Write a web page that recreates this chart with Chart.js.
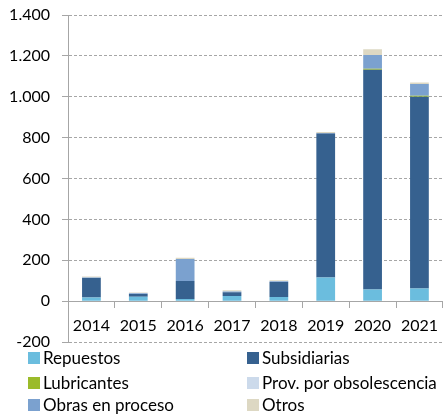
<!DOCTYPE html>
<html><head><meta charset="utf-8">
<script src="https://cdn.jsdelivr.net/npm/chart.js@4.4.1/dist/chart.umd.min.js"></script>
<style>
html,body{margin:0;padding:0;background:#fff;}
#wrap{position:relative;width:447px;height:415px;overflow:hidden;}
#cw{position:absolute;left:0;top:0;width:447px;height:352px;}
#legend{position:absolute;left:0;top:0;width:447px;height:415px;font-family:Lato;font-size:17px;color:#000;pointer-events:none;}
.item{position:absolute;display:flex;align-items:center;white-space:nowrap;height:20px;line-height:20px;}
.sw{width:12px;height:12px;margin-right:3px;flex:none;}
</style></head><body>
<div id="wrap"><div id="cw"><canvas id="c"></canvas></div><div id="legend"></div></div>
<script>
const categories = ['2014','2015','2016','2017','2018','2019','2020','2021'];
const repuestos    = [18, 21, 10, 25, 20, 116, 57, 62];
const subsidiarias = [95, 14, 88, 18, 74, 704, 1075, 938];
const lubricantes  = [0, 0, 0, 0, 0, 0, 5, 5];
const provObsol    = [0, 0, 0, 0, 0, 0, 0, 0];
const obras        = [2, 3, 108, 4, 3, 3, 67, 57];
const otros        = [5, 4, 6, 6, 5, 5, 29, 8];
const seriesNames  = ['Repuestos','Subsidiarias','Lubricantes','Prov. por obsolescencia','Obras en proceso','Otros'];
const seriesColors = ['#6BBDDE','#36618F','#9BBB2A','#CCDAEB','#7BA1CF','#DDD8C3'];
const yTickLabels  = ['-200','0','200','400','600','800','1.000','1.200','1.400'];

const seriesData = [repuestos, subsidiarias, lubricantes, provObsol, obras, otros];
const datasets = seriesNames.map((n,i)=>({
  label:n, data:seriesData[i], backgroundColor:seriesColors[i],
  borderWidth:0, barPercentage:0.4, categoryPercentage:1
}));

const font = {family:'Lato', size:16};
new Chart(document.getElementById('c'), {
  type:'bar',
  data:{labels:categories, datasets},
  options:{
    responsive:true, maintainAspectRatio:false, animation:false,
    layout:{padding:{top:15,right:0,bottom:10,left:0}},
    plugins:{legend:{display:false}, tooltip:{enabled:false}},
    scales:{
      x:{
        stacked:true, position:{y:0},
        grid:{drawOnChartArea:false, drawTicks:true, tickLength:6, color:'#A6A6A6', offset:true},
        border:{display:true, color:'#A6A6A6', width:1, z:1},
        ticks:{font, color:'#000', padding:9, maxRotation:0, autoSkip:false}
      },
      y:{
        stacked:true, min:-200, max:1400,
        afterFit:(s)=>{s.width=68; s.paddingTop=0; s.paddingBottom=0;},
        grid:{color:'#A6A6A6', tickLength:6, tickBorderDash:[], lineWidth:1},
        border:{display:true, color:'#A6A6A6', dash:[3,2]},
        ticks:{stepSize:200, font, color:'#000', padding:12,
          callback:(v,i)=>yTickLabels[i]}
      }
    }
  }
});

const lg = document.getElementById('legend');
const colX = [28, 247];
const rowC = [358, 382.5, 405];
seriesNames.forEach((n,i)=>{
  const d = document.createElement('div');
  d.className='item';
  d.style.left = colX[i%2]+'px';
  d.style.top = (rowC[Math.floor(i/2)]-10)+'px';
  d.innerHTML = '<span class="sw" style="background:'+seriesColors[i]+'"></span><span></span>';
  d.lastChild.textContent = n;
  lg.appendChild(d);
});
</script>
</body></html>
